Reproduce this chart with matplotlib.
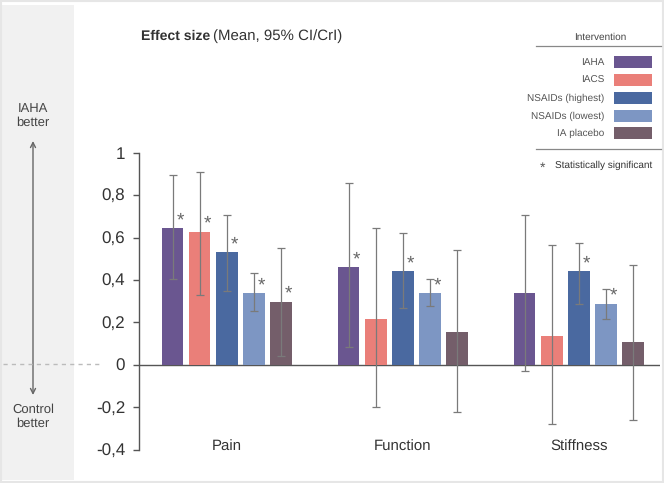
import numpy as np
import matplotlib.pyplot as plt
from matplotlib.patches import Rectangle, FancyArrowPatch

plt.rcParams['font.family'] = ['Liberation Sans', 'DejaVu Sans']
plt.rcParams['text.hinting'] = 'no_hinting'
plt.rcParams['text.hinting_factor'] = 1

# data
outcomes = ['Pain', 'Function', 'Stiffness']
treatments = ['IAHA', 'IACS', 'NSAIDs (highest)', 'NSAIDs (lowest)', 'IA placebo']
colors = ['#6a5690', '#ea7f79', '#4a69a0', '#7d96c3', '#745e6a']

iaha = [0.643, 0.461, 0.339]
iacs = [0.628, 0.216, 0.135]
nsaid_hi = [0.532, 0.440, 0.440]
nsaid_lo = [0.339, 0.339, 0.288]
placebo = [0.298, 0.157, 0.106]

iaha_ci = [(0.403, 0.897), (0.084, 0.856), (-0.027, 0.705)]
iacs_ci = [(0.330, 0.908), (-0.200, 0.647), (-0.280, 0.563)]
nsaid_hi_ci = [(0.349, 0.707), (0.269, 0.623), (0.285, 0.572)]
nsaid_lo_ci = [(0.255, 0.433), (0.276, 0.407), (0.216, 0.358)]
placebo_ci = [(0.044, 0.553), (-0.222, 0.540), (-0.260, 0.469)]

# significant? one row per treatment, one column per outcome
significant = [[True, True, False],
               [True, False, False],
               [True, True, True],
               [True, True, True],
               [True, False, False]]

yticks = [-0.4, -0.2, 0, 0.2, 0.4, 0.6, 0.8, 1]
ytick_labels = ['-0,4', '-0,2', '0', '0,2', '0,4', '0,6', '0,8', '1']

means = [iaha, iacs, nsaid_hi, nsaid_lo, placebo]
cis = [iaha_ci, iacs_ci, nsaid_hi_ci, nsaid_lo_ci, placebo_ci]

fig = plt.figure(figsize=(6.64, 4.83), dpi=100)
W, H = 664, 483

# light grey panel on the left and a faint frame
fig.patches.append(Rectangle((2 / W, 3 / H), 72 / W, 475 / H, transform=fig.transFigure,
                             facecolor='#f1f1f1', edgecolor='none', zorder=0))
fig.patches.append(Rectangle((1 / W, 1 / H), 662 / W, 481 / H, transform=fig.transFigure,
                             facecolor='none', edgecolor='#e6e6e6', lw=1.5, zorder=0))

ax = fig.add_axes([139 / W, (483 - 449.7) / H, (660 - 139) / W, 297 / H])
ax.patch.set_alpha(0)

group_gap = 6.5
x_groups = np.arange(len(outcomes)) * group_gap
for i, (vals, ci, col) in enumerate(zip(means, cis, colors)):
    x = x_groups + (i - 2)
    vals = np.array(vals)
    lo = vals - np.array([c[0] for c in ci])
    hi = np.array([c[1] for c in ci]) - vals
    ax.bar(x, vals, width=0.8, color=col, zorder=2)
    ax.errorbar(x, vals, yerr=[lo, hi], fmt='none', ecolor='#7a7a7a', elinewidth=0.9,
                capsize=2.6, capthick=0.9, zorder=3, clip_on=False)
    for j in range(len(outcomes)):
        if significant[i][j]:
            ax.text(x[j] + 0.27, vals[j] - 0.005, '*', fontsize=14, color='#666666',
                    ha='center', va='bottom', zorder=4)

ax.set_xlim(-3.24, 16.0)
ax.set_ylim(-0.4, 1.0)
ax.axhline(0, color='#555555', lw=1.0, zorder=1)

for s in ['top', 'right', 'bottom']:
    ax.spines[s].set_visible(False)
ax.spines['left'].set_color('#555555')
ax.spines['left'].set_linewidth(1.0)
ax.set_xticks([])
ax.set_yticks(yticks)
ax.set_yticklabels(ytick_labels)
ax.tick_params(axis='y', length=4, width=1.0, color='#555555', labelsize=12,
               labelcolor='#333333', pad=6)

for xg, name in zip(x_groups, outcomes):
    ax.text(xg, -0.385, name, ha='center', va='center', fontsize=11, color='#333333')

# title: bold part then regular part
fig.text(141 / W, 1 - 36 / H, 'Effect size', fontsize=10, color='#333333',
         va='center', ha='left', weight='bold')
fig.text(213 / W, 1 - 36 / H, '(Mean, 95% CI/CrI)', fontsize=10.5, color='#333333',
         va='center', ha='left')

# left annotation
fig.text(33 / W, 1 - 116 / H, 'IAHA\nbetter', ha='center', va='center', fontsize=9,
         color='#444444', linespacing=1.2)
fig.text(33 / W, 1 - 417 / H, 'Control\nbetter', ha='center', va='center', fontsize=9,
         color='#444444', linespacing=1.2)
fig.add_artist(plt.Line2D([3 / W, 100 / W], [1 - 364.4 / H, 1 - 364.4 / H],
                          color='#bbbbbb', lw=1, ls=(0, (3, 3))))
fig.add_artist(FancyArrowPatch((33 / W, 1 - 395 / H), (33 / W, 1 - 141 / H),
                               transform=fig.transFigure, arrowstyle='<->',
                               mutation_scale=9, color='#666666', lw=1.0,
                               shrinkA=0, shrinkB=0))

# legend drawn by hand
fig.text(600 / W, 1 - 37 / H, 'Intervention', ha='center', va='center', fontsize=7,
         color='#444444')
fig.add_artist(plt.Line2D([536 / W, 661 / W], [1 - 46 / H, 1 - 46 / H], color='#888888', lw=0.9))
legend_y = [62, 80, 98, 116, 133]
for name, col, yy in zip(treatments, colors, legend_y):
    fig.text(604 / W, 1 - yy / H, name, ha='right', va='center', fontsize=7.2, color='#555555')
    fig.patches.append(Rectangle((614 / W, 1 - (yy + 6) / H), 38 / W, 12 / H,
                                 transform=fig.transFigure, facecolor=col, edgecolor='none'))
fig.add_artist(plt.Line2D([536 / W, 661 / W], [1 - 149 / H, 1 - 149 / H], color='#888888', lw=0.9))
fig.text(543 / W, 1 - 168 / H, '*', ha='center', va='center', fontsize=10, color='#555555')
fig.text(555 / W, 1 - 165 / H, 'Statistically significant', ha='left', va='center',
         fontsize=7.5, color='#333333')

fig.savefig('out.png', dpi=100)
